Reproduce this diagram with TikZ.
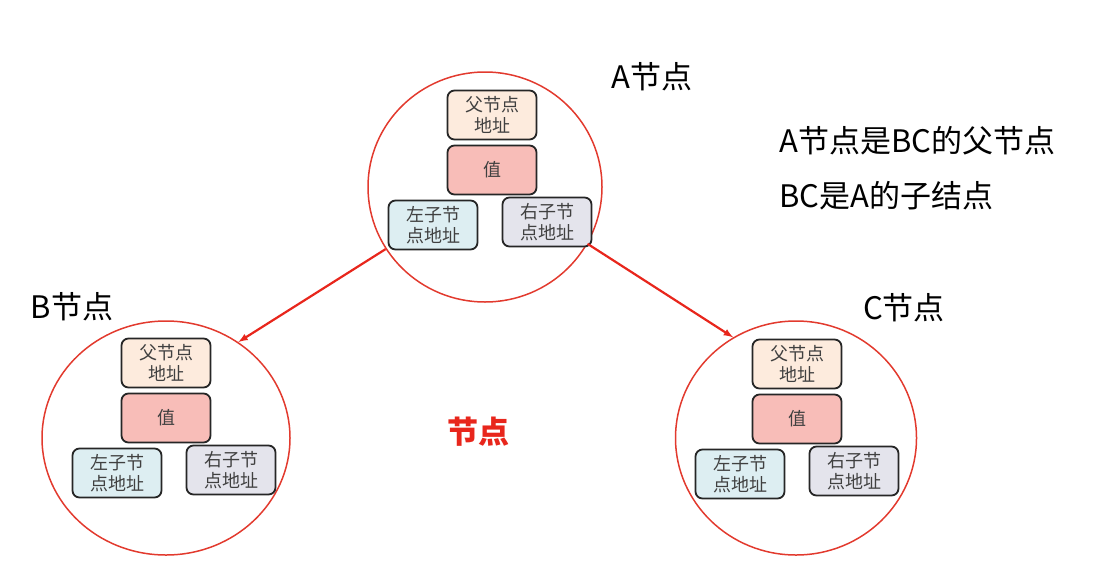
\documentclass[tikz,border=0pt]{standalone}
\usepackage{fontspec}
\setmainfont{Noto Sans CJK SC}
\newfontfamily\cjk{Noto Sans CJK SC}
\usetikzlibrary{shapes.geometric,arrows.meta}
\definecolor{ringred}{HTML}{E23A2E}
\definecolor{linkred}{HTML}{E8261C}
\definecolor{parfill}{HTML}{FDEBDD}
\definecolor{valfill}{HTML}{F8BDB8}
\definecolor{lfill}{HTML}{DDEEF2}
\definecolor{rfill}{HTML}{E4E4EC}
\begin{document}
\begin{tikzpicture}[x=1pt,y=-1pt,line join=round,>=latex,
  font=\cjk\fontsize{31}{36}\selectfont,
  ring/.style={draw=ringred,line width=1.5pt,ellipse,inner sep=0pt},
  cell/.style={draw=black!85,line width=1.8pt,rounded corners=7pt,
    minimum width=89pt,minimum height=49pt,inner sep=2pt,align=center,
    text=black!75,font=\cjk\fontsize{18}{21}\selectfont},
  link/.style={->,draw=linkred,line width=2.2pt}]
  \useasboundingbox (0,0) rectangle (1099,565);
  \foreach \n/\cx/\cy/\rx/\ry/\bx/\by/\lx/\rgx in
    {A/485/187/234/230/492/115/-59/55, B/166/438/248/234/166/363/-49/65,
     C/796/438/241/234/797/364/-57/57}{
    \node[ring,minimum width=\rx pt,minimum height=\ry pt] (\n) at (\cx,\cy) {};
    \begin{scope}[shift={(\bx,\by)}]
      \node[cell,fill=parfill] (\n-par) at (0,0) {父节点\\地址};
      \node[cell,fill=valfill] (\n-val) at (0,55) {值};
      \node[cell,fill=lfill] (\n-left) at (\lx,110) {左子节\\点地址};
      \node[cell,fill=rfill] (\n-right) at (\rgx,107) {右子节\\点地址};
    \end{scope}
  }
  \draw[link] (A.212) -- (B.53);
  \draw[link] (A.331) -- (C.122);
  \node (lblA) at (652,77) {A节点};
  \node (lblB) at (72,307) {B节点};
  \node (lblC) at (904,308) {C节点};
  \node[anchor=west] (note1) at (776,141) {A节点是BC的父节点};
  \node[anchor=west] (note2) at (776,196) {BC是A的子结点};
  \node[text=linkred,font=\cjk\bfseries\fontsize{31}{36}\selectfont] (title) at (478,432) {节点};
\end{tikzpicture}
\end{document}
